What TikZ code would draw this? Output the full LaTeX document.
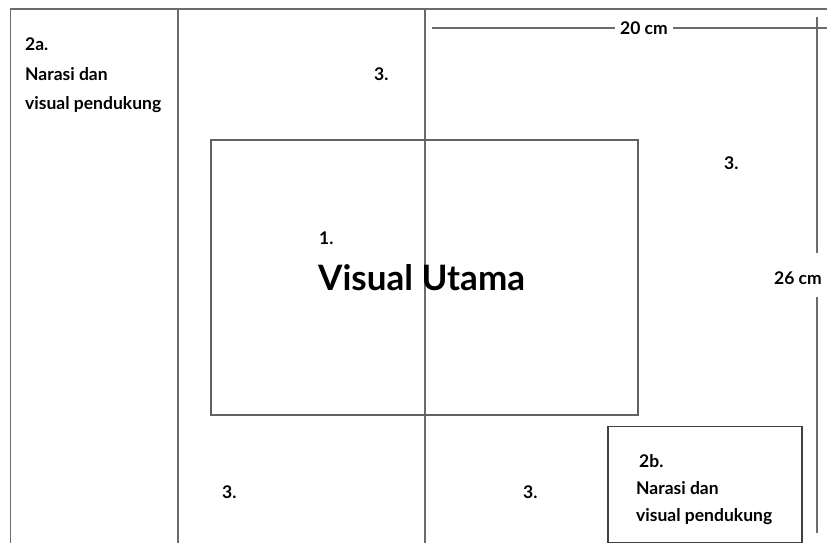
\documentclass[tikz,border=0pt]{standalone}
\usepackage{fontspec}
\setmainfont{Lato}
\begin{document}
\begin{tikzpicture}[x=1pt,y=-1pt,
  frame/.style={draw=black!58,line width=1.3pt},
  boxline/.style={draw=black!62,line width=1.2pt},
  darkbox/.style={draw=black!75,line width=1.2pt},
  lbl/.style={anchor=base west,inner sep=0pt,font=\fontsize{17.5}{19}\selectfont\bfseries},
  dim/.style={font=\fontsize{17.5}{19}\selectfont\bfseries,inner sep=5pt},
  dimline/.style={draw=black!58,line width=1.3pt}]
\useasboundingbox (0,0) rectangle (827,543);
\fill[white] (0,0) rectangle (827,543);
% frame lines
\coordinate (tl) at (10.5,9);
\coordinate (tr) at (827,9);
\coordinate (bl) at (10.5,543);
\draw[frame] (bl) -- (tl) -- (tr);
\coordinate (c1t) at (178,9);
\coordinate (c1b) at (178,543);
\draw[frame] (c1t) -- (c1b);
\coordinate (c2t) at (425,9);
\coordinate (c2b) at (425,543);
\draw[frame] (c2t) -- (c2b);
% main visual box
\node[boxline,minimum width=427pt,minimum height=275pt,inner sep=0pt] (main) at (424.5,277.5) {};
% box 2b
\node[darkbox,minimum width=194pt,minimum height=116pt,inner sep=0pt] (b2) at (705,484.5) {};
% dimension 20 cm
\node[dim] (d20) at (644,28) {20 cm};
\coordinate (d20l) at (432,28);
\coordinate (d20r) at (827,28);
\draw[dimline] (d20l) -- (d20.west);
\draw[dimline] (d20.east) -- (d20r);
% dimension 26 cm
\node[dim,inner sep=0pt] (d26) at (798,278) {26 cm};
\coordinate (d26t) at (817,17);
\coordinate (d26a) at (817,253);
\coordinate (d26c) at (817,297);
\coordinate (d26b) at (817,533);
\draw[dimline] (d26t) -- (d26a);
\draw[dimline] (d26c) -- (d26b);
% 2a text
\node[lbl] (t2a) at (25,51) {2a.};
\node[lbl] (t2a1) at (25,81) {Narasi dan};
\node[lbl] (t2a2) at (25,109) {visual pendukung};
% 2b text
\node[lbl] (t2b) at (639,467) {2b.};
\node[lbl] (t2b1) at (636,494) {Narasi dan};
\node[lbl] (t2b2) at (636,521) {visual pendukung};
% 3. labels
\node[lbl] (n3a) at (374,81) {3.};
\node[lbl] (n3b) at (724,169) {3.};
\node[lbl] (n3c) at (222,498) {3.};
\node[lbl] (n3d) at (523,498) {3.};
% main labels
\node[lbl] (n1) at (319,244) {1.};
\node[anchor=base west,inner sep=0pt,font=\fontsize{35}{38}\selectfont\bfseries] (vu) at (318,290) {Visual Utama};
\end{tikzpicture}
\end{document}
